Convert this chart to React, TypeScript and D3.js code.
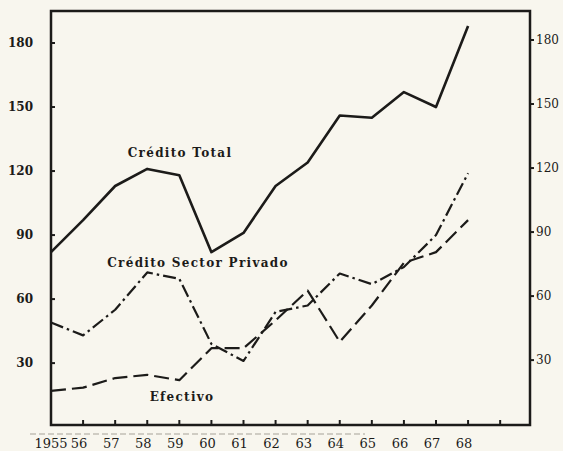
import { useEffect, useRef } from 'react';
import * as d3 from 'd3';

const years = [1955, 1956, 1957, 1958, 1959, 1960, 1961, 1962, 1963, 1964, 1965, 1966, 1967, 1968];
const creditoTotal = [82, 97, 113, 121, 118, 82, 91, 113, 124, 146, 145, 157, 150, 188];
const creditoPrivado = [49, 43, 55, 72.5, 69.5, 39, 31, 54, 57, 72, 67, 75, 90, 119];
const efectivo = [17, 18.5, 23, 24.5, 22, 37, 37, 50, 64, 40, 57, 77, 82, 97];
const yTicks = [30, 60, 90, 120, 150, 180];
const tickYears = [1956, 1957, 1958, 1959, 1960, 1961, 1962, 1963, 1964, 1965, 1966, 1967, 1968, 1969];
const xLabels = ['1955', '56', '57', '58', '59', '60', '61', '62', '63', '64', '65', '66', '67', '68'];

const W = 563;
const H = 451;
const INK = '#1c1b19';
const FONT = '"DejaVu Serif", serif';

export default function App() {
  const svgRef = useRef<SVGSVGElement>(null);

  useEffect(() => {
    if (!svgRef.current) return;
    const svg = d3.select(svgRef.current);
    svg.selectAll('*').remove();

    const box = { left: 51, right: 530, top: 11, bottom: 425 };

    const x = d3.scaleLinear().domain([1955, 1969.93]).range([box.left, box.right]);
    const y = d3.scaleLinear().domain([1, 195]).range([box.bottom, box.top]);

    svg.append('rect').attr('width', W).attr('height', H).attr('fill', '#f8f6ee');

    // scan artefact above the year labels
    svg.append('line')
      .attr('x1', 30).attr('x2', 365).attr('y1', 434).attr('y2', 434)
      .attr('stroke', '#a6a298').attr('stroke-width', 1)
      .attr('stroke-dasharray', '6,3');

    // frame
    svg.append('rect')
      .attr('x', box.left).attr('y', box.top)
      .attr('width', box.right - box.left).attr('height', box.bottom - box.top)
      .attr('fill', 'none').attr('stroke', INK).attr('stroke-width', 2.5);

    // left ticks (inward) + labels
    const left = svg.append('g');
    left.selectAll('line').data(yTicks).enter().append('line')
      .attr('x1', box.left).attr('x2', box.left + 4)
      .attr('y1', d => y(d)).attr('y2', d => y(d))
      .attr('stroke', INK).attr('stroke-width', 2);
    left.selectAll('text').data(yTicks).enter().append('text')
      .attr('x', 33).attr('y', d => y(d)).attr('dy', '0.35em')
      .attr('text-anchor', 'end')
      .style('font-family', FONT).style('font-weight', 'bold').style('font-size', '12px')
      .style('fill', INK)
      .text(d => d);

    // right ticks (outward) + labels
    const right = svg.append('g');
    right.selectAll('line').data(yTicks).enter().append('line')
      .attr('x1', box.right).attr('x2', box.right + 4)
      .attr('y1', d => y(d) - 3).attr('y2', d => y(d) - 3)
      .attr('stroke', INK).attr('stroke-width', 2);
    right.selectAll('text').data(yTicks).enter().append('text')
      .attr('x', 536).attr('y', d => y(d) - 3).attr('dy', '0.35em')
      .style('font-family', FONT).style('font-size', '12px')
      .style('fill', INK)
      .text(d => d);

    // bottom ticks (inward)
    svg.append('g').selectAll('line').data(tickYears).enter().append('line')
      .attr('x1', d => x(d)).attr('x2', d => x(d))
      .attr('y1', box.bottom).attr('y2', box.bottom - 5)
      .attr('stroke', INK).attr('stroke-width', 2);

    svg.append('g').selectAll('text').data(years).enter().append('text')
      .attr('x', (d, i) => (i === 0 ? x(d) : x(d) - 4))
      .attr('y', 448)
      .attr('text-anchor', 'middle')
      .style('font-family', FONT).style('font-size', '13px')
      .style('fill', INK)
      .text((d, i) => xLabels[i]);

    // series
    const series = [
      { values: creditoTotal, dash: null, width: 2.6 },
      { values: creditoPrivado, dash: '13,4,2.5,4', width: 2.2 },
      { values: efectivo, dash: '15,6', width: 2.2 },
    ];
    const line = d3.line<number>()
      .x((d, i) => x(years[i]))
      .y(d => y(d));

    series.forEach(s => {
      svg.append('path')
        .datum(s.values)
        .attr('fill', 'none')
        .attr('stroke', INK)
        .attr('stroke-width', s.width)
        .attr('stroke-linejoin', 'round')
        .attr('stroke-dasharray', s.dash)
        .attr('d', line);
    });

    // inline labels
    const labels = [
      { text: 'Crédito Total', x: 180, y: 153 },
      { text: 'Crédito Sector Privado', x: 198, y: 263 },
      { text: 'Efectivo', x: 182, y: 397 },
    ];
    svg.append('g').selectAll('text').data(labels).enter().append('text')
      .attr('x', d => d.x).attr('y', d => d.y).attr('dy', '0.35em')
      .attr('text-anchor', 'middle')
      .style('font-family', FONT).style('font-weight', 'bold').style('font-size', '12px')
      .style('letter-spacing', '1.3px')
      .style('fill', INK)
      .text(d => d.text);
  }, []);

  return (
    <svg
      ref={svgRef}
      width={W}
      height={H}
      style={{ position: 'absolute', left: 0, top: 0, display: 'block' }}
    />
  );
}
